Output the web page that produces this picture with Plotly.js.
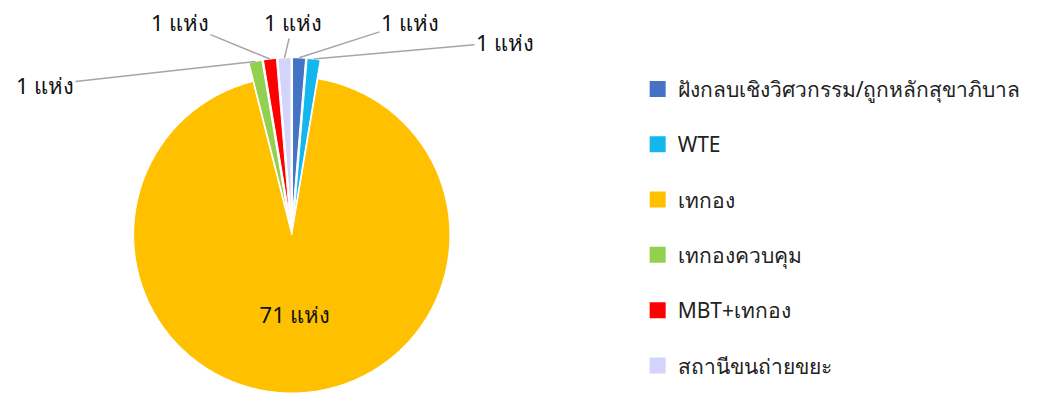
<!DOCTYPE html>
<html>
<head>
<meta charset="utf-8">
<script src="https://cdn.plot.ly/plotly-3.0.1.min.js"></script>
<style>html,body{margin:0;padding:0;background:#fff;}#chart{width:1061px;height:412px;}</style>
</head>
<body>
<div id="chart"></div>
<script>
// ---- data ----
const categories = ["ฝังกลบเชิงวิศวกรรม/ถูกหลักสุขาภิบาล", "WTE", "เทกอง", "เทกองควบคุม", "MBT+เทกอง", "สถานีขนถ่ายขยะ"];
const counts = [1, 1, 71, 1, 1, 1];
const unit = "แห่ง";
const colors = ["#4472C4", "#13B7EE", "#FFC000", "#92D050", "#FF0000", "#D4D4FA"];

// ---- layout settings (not data) ----
const W = 1061, H = 412;
const domX = [0.05, 0.5], domY = [0, 0.86];
const pullSmall = 0.12;
// label centre positions (px from top-left) for the small outside labels, by category index
const labelPos = {0: [410, 22], 1: [505, 42], 3: [45, 85], 4: [180, 22], 5: [293, 22]};

const isSmall = counts.map(v => v < 5);
const pulls = isSmall.map(s => s ? pullSmall : 0);

const pie = {
  type: "pie",
  labels: categories,
  values: counts,
  sort: false,
  direction: "clockwise",
  rotation: 0,
  marker: {colors: colors, line: {color: "#ffffff", width: 1}},
  pull: pulls,
  texttemplate: isSmall.map(s => s ? "" : "%{value} " + unit),
  textposition: "inside",
  textfont: {size: 22, color: "#111"},
  insidetextorientation: "horizontal",
  hovertemplate: "%{label}: %{value} " + unit + "<extra></extra>",
  showlegend: false,
  domain: {x: domX, y: domY}
};

// legend entries (one per category, grouped so gaps can be set)
const legendTraces = categories.map((c, i) => ({
  type: "scatter", mode: "markers", x: [null], y: [null],
  name: c, legendgroup: "g" + i,
  marker: {symbol: "square", size: 16, color: colors[i]},
  hoverinfo: "skip", showlegend: true
}));

// geometry for leader lines, derived from the values
const total = counts.reduce((a, b) => a + b, 0);
const dW = (domX[1] - domX[0]) * W, dH = (domY[1] - domY[0]) * H;
const r = Math.min(dW, dH) / 2 / (1 + pullSmall);
const cx = (domX[0] + domX[1]) / 2 * W;
const cy = H - (domY[0] + domY[1]) / 2 * H;
let cum = 0;
const annotations = [];
counts.forEach((v, i) => {
  const mid = (cum + v / 2) / total * 2 * Math.PI;
  cum += v;
  if (!isSmall[i]) return;
  const R = r * (1 + pulls[i]);
  const tx = cx + R * Math.sin(mid), ty = cy - R * Math.cos(mid);
  const [lx, ly] = labelPos[i];
  annotations.push({
    xref: "paper", yref: "paper", x: tx / W, y: 1 - ty / H,
    ax: lx - tx, ay: ly - ty, axref: "pixel", ayref: "pixel",
    text: v + " " + unit, showarrow: true, arrowhead: 0, arrowwidth: 1.5,
    arrowcolor: "#A6A6A6", standoff: 0, startstandoff: 0,
    font: {size: 22, color: "#111"}
  });
});

const layout = {
  width: W, height: H,
  margin: {l: 0, r: 0, t: 0, b: 0},
  paper_bgcolor: "#ffffff", plot_bgcolor: "rgba(0,0,0,0)",
  font: {family: "Noto Sans, Tahoma, sans-serif", color: "#222"},
  xaxis: {visible: false, domain: [0.6, 0.61]},
  yaxis: {visible: false},
  showlegend: true,
  legend: {x: 0.601, y: 0.833, xanchor: "left", yanchor: "top", font: {size: 21, color: "#222"},
           bgcolor: "rgba(0,0,0,0)", tracegroupgap: 25, itemclick: false},
  annotations: annotations
};

Plotly.newPlot("chart", [pie].concat(legendTraces), layout, {displayModeBar: false, staticPlot: true});
</script>
</body>
</html>
